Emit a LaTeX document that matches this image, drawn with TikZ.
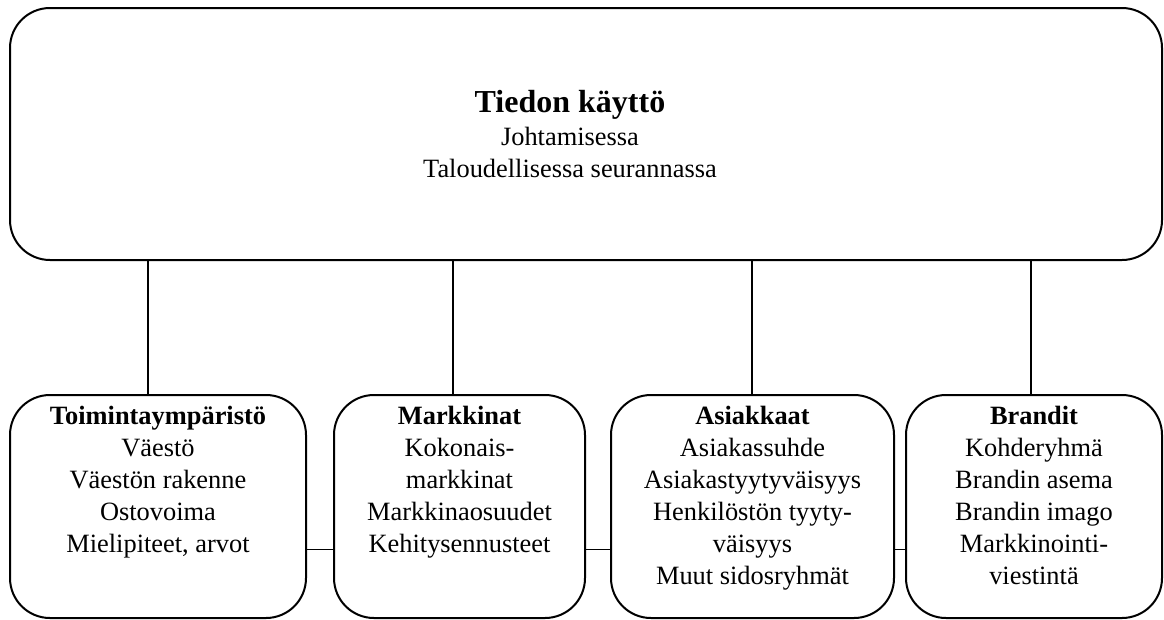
\documentclass[tikz,border=0pt]{standalone}
\usepackage{fontspec}
\setmainfont{Liberation Serif}
\begin{document}
\begin{tikzpicture}[x=1pt,y=-1pt,
  box/.style={draw, line width=2pt, rounded corners=40pt, inner sep=0pt},
  txt/.style={align=center, inner sep=0pt, anchor=north, font=\fontsize{26.4}{32}\selectfont},
  ttl/.style={inner sep=0pt, anchor=base, font=\fontsize{32}{38}\selectfont\bfseries},
  link/.style={line width=1.6pt}]
\useasboundingbox (0,0) rectangle (1164,619);
\node[box, minimum width=1152pt, minimum height=252pt] (top) at (586,134) {};
\node[ttl] (title) at (570,112) {Tiedon käyttö};
\node[txt] (toptxt) at (570,127) {Johtamisessa\\Taloudellisessa seurannassa};

\node[box, minimum width=296pt, minimum height=223pt] (b1) at (158,506.5) {};
\node[box, minimum width=251pt, minimum height=223pt] (b2) at (459.5,506.5) {};
\node[box, minimum width=283pt, minimum height=223pt] (b3) at (752.5,506.5) {};
\node[box, minimum width=256pt, minimum height=223pt] (b4) at (1034,506.5) {};

\node[txt] (t1) at (158,406) {\textbf{Toimintaympäristö}\\Väestö\\Väestön rakenne\\Ostovoima\\Mielipiteet, arvot};
\node[txt] (t2) at (459.5,406) {\textbf{Markkinat}\\Kokonais-\\markkinat\\Markkinaosuudet\\Kehitysennusteet};
\node[txt] (t3) at (752.5,406) {\textbf{Asiakkaat}\\Asiakassuhde\\Asiakastyytyväisyys\\Henkilöstön tyyty-\\väisyys\\Muut sidosryhmät};
\node[txt] (t4) at (1034,406) {\textbf{Brandit}\\Kohderyhmä\\Brandin asema\\Brandin imago\\Markkinointi-\\viestintä};

\draw[link] ([xshift=-10pt]b1.north) -- ([xshift=-10pt]b1.north |- top.south);
\draw[link] ([xshift=-6.5pt]b2.north) -- ([xshift=-6.5pt]b2.north |- top.south);
\draw[link] ([xshift=-0.5pt]b3.north) -- ([xshift=-0.5pt]b3.north |- top.south);
\draw[link] ([xshift=-3pt]b4.north) -- ([xshift=-3pt]b4.north |- top.south);

\draw[link] ([yshift=-43pt]b1.east) -- ([yshift=-43pt]b2.west);
\draw[link] ([yshift=-43pt]b2.east) -- ([yshift=-43pt]b3.west);
\draw[link] ([yshift=-43pt]b3.east) -- ([yshift=-43pt]b4.west);
\end{tikzpicture}
\end{document}
